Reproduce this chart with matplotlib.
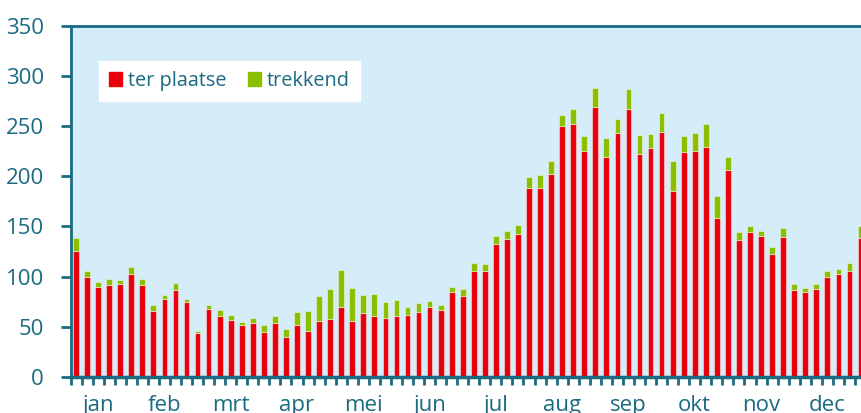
import numpy as np
import matplotlib
matplotlib.use("Agg")
import matplotlib.pyplot as plt
from matplotlib.patches import Patch

months = ['jan', 'feb', 'mrt', 'apr', 'mei', 'jun',
          'jul', 'aug', 'sep', 'okt', 'nov', 'dec']

# six periods of about five days per month
ter_plaatse = [125, 100, 90, 92, 93, 103,
               92, 66, 78, 87, 75, 44,
               68, 61, 57, 52, 54, 45,
               54, 40, 52, 46, 56, 58,
               70, 56, 64, 61, 59, 61,
               62, 65, 70, 67, 85, 81,
               106, 106, 132, 137, 142, 188,
               188, 202, 250, 252, 225, 269,
               219, 243, 267, 222, 228, 244,
               185, 224, 225, 229, 158, 206,
               136, 144, 140, 122, 139, 87,
               85, 88, 100, 103, 106, 138]
trekkend = [13, 6, 5, 6, 4, 7,
            6, 6, 4, 6.5, 3, 2,
            4, 6, 5, 3, 5, 7,
            7, 8, 13, 20, 25, 30,
            37, 33, 18, 22, 16, 16,
            8, 9, 6, 5, 5, 7,
            8, 7, 8, 8, 9, 11.5,
            13.5, 13, 11, 15, 15, 19,
            19, 14, 20, 19, 14, 19,
            30, 16, 18, 22.5, 22.5, 13,
            8, 6, 5, 7.5, 9, 6,
            4, 5, 6, 5, 7.5, 12.5]

RED = '#e8000b'
GREEN = '#8cbe00'
TEAL = '#1a6a82'
BG = '#d5ecf9'

plt.rcParams['font.family'] = ['Open Sans', 'DejaVu Sans']

fig = plt.figure(figsize=(8.61, 4.13), dpi=100)
W, H = 861, 413
left, right, bottom, top = 70.5, 866, 377, 25.5
ax = fig.add_axes([left / W, (H - bottom) / H, (right - left) / W, (bottom - top) / H])
ax.set_facecolor(BG)

x = np.arange(len(ter_plaatse))
edge = (1, 1, 1, 0.45)
ax.bar(x, ter_plaatse, width=0.52, color=RED, edgecolor=edge, linewidth=0.8)
ax.bar(x, trekkend, width=0.52, bottom=ter_plaatse, color=GREEN,
       edgecolor=edge, linewidth=0.8)

ax.set_xlim(-0.5, len(x) - 0.5)
ax.set_ylim(0, 350)

for s in ['left', 'bottom', 'top']:
    ax.spines[s].set_color(TEAL)
ax.spines['left'].set_linewidth(2)
ax.spines['bottom'].set_linewidth(2.5)
ax.spines['top'].set_linewidth(2)
ax.spines['right'].set_visible(False)

ax.set_yticks(np.arange(0, 351, 50))
ax.tick_params(axis='y', direction='out', length=7, width=2, color=TEAL,
               labelcolor=TEAL, labelsize=16, pad=12)

ax.set_xticks(np.arange(len(x) + 1) - 0.5)
ax.set_xticklabels([])
ax.set_xticks(np.arange(len(months)) * 6 + 2.0, minor=True)
ax.set_xticklabels(months, minor=True)
ax.tick_params(axis='x', which='major', direction='out', length=6, width=2, color=TEAL)
ax.tick_params(axis='x', which='minor', length=0, labelcolor=TEAL,
               labelsize=16, pad=13)

handles = [Patch(color=RED, label='ter plaatse'), Patch(color=GREEN, label='trekkend')]
leg = ax.legend(handles=handles, loc='upper left', bbox_to_anchor=(0.036, 0.899),
                borderaxespad=0, ncol=2, fontsize=14.3, frameon=True, fancybox=False,
                handlelength=0.65, handleheight=0.65, handletextpad=0.3,
                columnspacing=1.1, borderpad=0.5)
leg.get_frame().set_facecolor('white')
leg.get_frame().set_edgecolor('white')
leg.get_frame().set_alpha(1)
for t in leg.get_texts():
    t.set_color(TEAL)

fig.savefig('out.png', dpi=100)
